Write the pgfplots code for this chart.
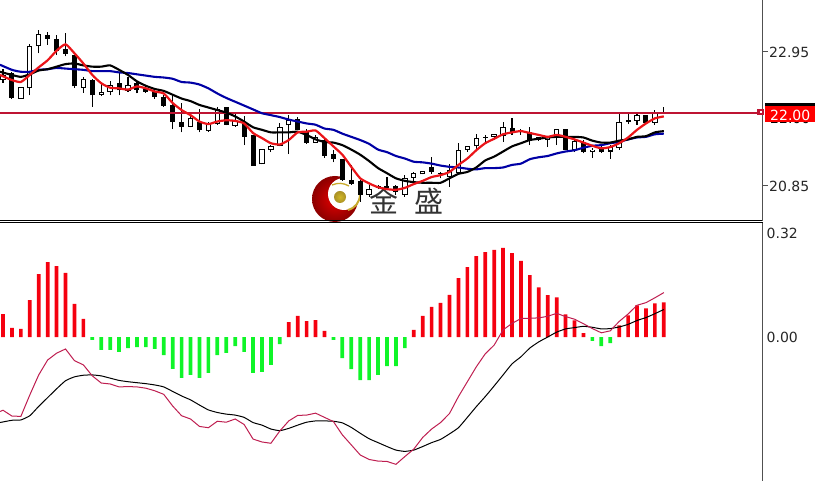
\documentclass[border=0pt]{standalone}
\usepackage{fontspec}
\setmainfont{DejaVu Sans}
\newfontfamily\cjk{Noto Sans CJK SC}
\usepackage{pgfplots}
\usepackage{pgfplotstable}
\pgfplotsset{compat=1.18}

\definecolor{hline}{RGB}{190,20,50}
\definecolor{ma5}{RGB}{235,20,25}
\definecolor{ma20}{RGB}{0,0,165}
\definecolor{dif}{RGB}{190,30,80}
\definecolor{barred}{RGB}{245,0,15}
\definecolor{bargreen}{RGB}{15,245,40}
\definecolor{axgray}{RGB}{80,80,80}
\definecolor{gold}{RGB}{200,170,45}

% candles: index open high low close
\pgfplotstableread{
i o h l c
1 22.62 22.64 22.21 22.23
5 23.21 23.26 23.06 23.16
6 23.15 23.22 22.90 22.97
7 22.99 23.24 22.88 22.92
8 22.91 22.91 22.39 22.41
10 22.51 22.52 22.09 22.27
13 22.46 22.62 22.27 22.35
15 22.46 22.49 22.30 22.36
16 22.38 22.43 22.31 22.33
17 22.33 22.38 22.22 22.25
18 22.24 22.28 22.09 22.11
19 22.12 22.28 21.74 21.86
20 21.85 22.15 21.69 21.78
22 21.86 22.05 21.69 21.72
25 22.08 22.09 21.80 21.81
27 21.83 21.94 21.49 21.62
28 21.65 21.65 21.17 21.17
33 21.90 21.93 21.72 21.73
34 21.70 21.75 21.51 21.52
36 21.57 21.58 21.29 21.32
37 21.35 21.42 21.22 21.28
38 21.27 21.28 20.93 20.94
39 20.94 21.18 20.87 20.88
40 20.93 20.95 20.60 20.71
42 20.85 20.87 20.80 20.82
43 20.85 20.99 20.79 20.82
44 20.85 20.87 20.71 20.75
48 21.14 21.30 21.04 21.07
49 21.06 21.07 20.97 21.05
54 21.62 21.65 21.53 21.61
57 21.76 21.91 21.65 21.70
58 21.72 21.74 21.65 21.69
59 21.69 21.77 21.49 21.56
60 21.61 21.62 21.56 21.57
63 21.75 21.75 21.41 21.41
65 21.54 21.57 21.36 21.38
67 21.43 21.47 21.37 21.38
70 21.88 22.00 21.82 21.85
72 21.96 21.96 21.82 21.83
74 21.99 22.09 21.98 21.98
}\blackc

\pgfplotstableread{
i o h l c
0 22.51 22.69 22.47 22.59
2 22.22 22.40 22.22 22.40
3 22.38 23.08 22.27 23.04
4 23.04 23.30 22.93 23.23
9 22.39 22.56 22.31 22.52
11 22.28 22.46 22.26 22.33
12 22.33 22.49 22.27 22.43
14 22.34 22.56 22.33 22.44
21 21.78 21.95 21.77 21.91
23 21.71 21.86 21.70 21.82
24 21.82 22.09 21.81 22.05
26 21.79 21.99 21.78 21.87
29 21.19 21.43 21.19 21.43
30 21.41 21.49 21.38 21.48
31 21.48 21.84 21.47 21.78
32 21.80 21.96 21.35 21.89
35 21.53 21.65 21.52 21.61
41 20.71 20.87 20.68 20.80
45 20.71 21.02 20.68 20.97
46 20.98 21.07 20.92 21.05
47 21.03 21.08 21.03 21.08
50 20.99 21.20 20.84 21.10
51 21.06 21.52 21.06 21.42
52 21.42 21.48 21.39 21.47
53 21.47 21.67 21.41 21.60
55 21.62 21.67 21.57 21.66
56 21.64 21.86 21.54 21.78
61 21.57 21.63 21.46 21.61
62 21.60 21.75 21.49 21.74
64 21.41 21.57 21.38 21.56
66 21.39 21.44 21.29 21.42
68 21.39 21.49 21.28 21.46
69 21.44 21.98 21.42 21.86
71 21.87 21.98 21.81 21.96
73 21.84 22.04 21.81 22.00
}\whitec

\pgfplotsset{
  wick/.style={draw=none,mark=none,forget plot,
    error bars/.cd,y dir=plus,y explicit,error mark=none,
    error bar style={black,line width=1.1pt,solid}},
  body/.style={draw=none,mark=none,forget plot,
    error bars/.cd,y dir=plus,y explicit,error mark=none,
    error bar style={#1,solid}},
  panel/.style={
    scale only axis,width=762.5pt,
    xmin=-0.336,xmax=85.05,
    xtick=\empty,
    axis y line*=right,
    axis line style={-},
    ytick pos=right,
    tick align=outside,
    /pgf/number format/.cd,fixed,fixed zerofill,precision=2,assume math mode=true,
    /pgfplots/.cd,
    ticklabel style={font=\fontsize{14}{16}\selectfont,text=black!85},
    y axis line style={axgray,line width=1.2pt},
  },
}

\begin{document}
\begin{tikzpicture}[x=1pt,y=1pt]
\path[use as bounding box] (0,0) rectangle (815,481);

% watermark logo, sits under the candles
\shade[inner color=red!90!black,outer color=red!55!black] (335,282) circle (23);
\fill[white] (344,287) circle (16);
\shade[inner color=gold!85!yellow,outer color=gold!85!black] (340,284) circle (6);
\draw[gold,line width=2pt] (348,271) to[bend right=35] (360,286);
\draw[gold,line width=1.3pt] (332,296) to[bend left=25] (349,295);
\node[text=black!80,inner sep=0pt] at (384,280) {\fontsize{29}{30}\selectfont\cjk 金};
\node[text=black!80,inner sep=0pt] at (429,280) {\fontsize{29}{30}\selectfont\cjk 盛};

\begin{axis}[panel,at={(0pt,260pt)},anchor=south west,height=221pt,
    ymin=20.301,ymax=23.765,
    axis x line*=bottom,
    x axis line style={black,line width=1pt},
    ytick={20.85,22.95},
    major tick length=5pt,
    y tick style={axgray,line width=1pt},
    yticklabel style={inner sep=0pt,xshift=1.5pt},
    clip=true]
\addplot[wick] table[x=i,y=l,y error plus expr=\thisrow{h}-\thisrow{l}] {\blackc};
\addplot[wick] table[x=i,y=l,y error plus expr=\thisrow{h}-\thisrow{l}] {\whitec};
\addplot[body={black,line width=5pt}] table[x=i,y=c,y error plus expr=\thisrow{o}-\thisrow{c}] {\blackc};
\addplot[body={black,line width=5.4pt}] table[x=i,y=o,y error plus expr=\thisrow{c}-\thisrow{o}] {\whitec};
\addplot[body={white,line width=3.4pt}] table[x=i,y expr=\thisrow{o}+0.016,y error plus expr=\thisrow{c}-\thisrow{o}-0.032] {\whitec};

% 22.00 level
\addplot[hline,line width=2pt,forget plot] coordinates {(-0.336,22.00) (84.4,22.00)};

% slow average
\addplot[ma20,line width=2.1pt,smooth,tension=0.35,forget plot] coordinates {
(-0.34,22.75)(1,22.67)(2,22.64)(3,22.64)(4,22.67)(5,22.68)(6,22.70)(7,22.69)(8,22.68)(9,22.67)
(10,22.65)(11,22.65)(12,22.65)(13,22.63)(14,22.62)(15,22.60)(16,22.58)(17,22.56)(18,22.55)(19,22.53)
(20,22.48)(21,22.47)(22,22.44)(23,22.38)(24,22.30)(25,22.23)(26,22.17)(27,22.11)(28,22.05)(29,21.99)
(30,21.96)(31,21.93)(32,21.89)(33,21.86)(34,21.83)(35,21.81)(36,21.75)(37,21.73)(38,21.67)(39,21.62)
(40,21.57)(41,21.51)(42,21.42)(43,21.38)(44,21.32)(45,21.28)(46,21.23)(47,21.22)(48,21.20)(49,21.17)
(50,21.15)(51,21.14)(52,21.12)(53,21.11)(54,21.13)(55,21.13)(56,21.14)(57,21.18)(58,21.20)(59,21.27)
(60,21.30)(61,21.32)(62,21.36)(63,21.39)(64,21.41)(65,21.45)(66,21.48)(67,21.49)(68,21.52)(69,21.54)
(70,21.58)(71,21.61)(72,21.62)(73,21.66)(74,21.67)};

% middle average
\addplot[black,line width=2.1pt,smooth,tension=0.35,forget plot] coordinates {
(-0.34,22.64)(1,22.59)(2,22.56)(3,22.60)(4,22.66)(5,22.68)(6,22.72)(7,22.76)(8,22.77)(9,22.74)
(10,22.72)(11,22.72)(12,22.74)(13,22.67)(14,22.59)(15,22.49)(16,22.42)(17,22.37)(18,22.34)(19,22.28)
(20,22.22)(21,22.18)(22,22.12)(23,22.08)(24,22.04)(25,22.00)(26,21.94)(27,21.86)(28,21.77)(29,21.73)
(30,21.69)(31,21.69)(32,21.69)(33,21.70)(34,21.65)(35,21.58)(36,21.54)(37,21.53)(38,21.49)(39,21.42)
(40,21.34)(41,21.24)(42,21.13)(43,21.05)(44,20.97)(45,20.93)(46,20.91)(47,20.90)(48,20.90)(49,20.90)
(50,20.97)(51,21.04)(52,21.07)(53,21.14)(54,21.25)(55,21.31)(56,21.39)(57,21.47)(58,21.52)(59,21.57)
(60,21.59)(61,21.61)(62,21.62)(63,21.62)(64,21.62)(65,21.61)(66,21.56)(67,21.53)(68,21.53)(69,21.56)
(70,21.58)(71,21.62)(72,21.63)(73,21.69)(74,21.71)};

% fast average
\addplot[ma5,line width=2.2pt,smooth,tension=0.35,forget plot] coordinates {
(-0.34,22.59)(1,22.51)(2,22.48)(3,22.59)(4,22.71)(5,22.82)(6,22.97)(7,23.07)(8,22.93)(9,22.77)
(10,22.59)(11,22.46)(12,22.39)(13,22.38)(14,22.36)(15,22.41)(16,22.38)(17,22.33)(18,22.30)(19,22.15)
(20,22.04)(21,21.96)(22,21.86)(23,21.82)(24,21.86)(25,21.88)(26,21.87)(27,21.83)(28,21.68)(29,21.60)
(30,21.52)(31,21.50)(32,21.57)(33,21.69)(34,21.70)(35,21.72)(36,21.60)(37,21.47)(38,21.34)(39,21.15)
(40,20.97)(41,20.89)(42,20.83)(43,20.80)(44,20.79)(45,20.82)(46,20.88)(47,20.93)(48,20.99)(49,21.02)
(50,21.07)(51,21.18)(52,21.28)(53,21.41)(54,21.52)(55,21.59)(56,21.66)(57,21.69)(58,21.71)(59,21.68)
(60,21.65)(61,21.62)(62,21.65)(63,21.62)(64,21.58)(65,21.53)(66,21.48)(67,21.44)(68,21.46)(69,21.52)
(70,21.61)(71,21.73)(72,21.83)(73,21.91)(74,21.94)};
\end{axis}

\begin{axis}[panel,at={(0pt,0pt)},anchor=south west,height=258pt,
    ymin=-0.4444,ymax=0.3519,
    axis x line*=top,
    x axis line style={black,line width=1pt},
    ytick={0,0.32},
    major tick length=0pt,
    yticklabel style={inner sep=0pt,xshift=4pt}]
\addplot[ybar,bar shift=0pt,bar width=3.7pt,fill=barred,draw=none,forget plot] coordinates {
(0,0.071)(1,0.028)(2,0.025)(3,0.114)(4,0.194)(5,0.231)(6,0.219)(7,0.198)(8,0.102)(9,0.056)
(32,0.046)(33,0.065)(34,0.049)(35,0.052)(36,0.019)
(46,0.022)(47,0.065)(48,0.093)(49,0.105)(50,0.130)(51,0.182)(52,0.216)(53,0.250)(54,0.262)(55,0.269)
(56,0.275)(57,0.259)(58,0.235)(59,0.191)(60,0.153)(61,0.129)(62,0.122)(63,0.070)(64,0.051)(65,0.012)
(69,0.036)(70,0.067)(71,0.098)(72,0.088)(73,0.104)(74,0.107)};
\addplot[ybar,bar shift=0pt,bar width=3.7pt,fill=bargreen,draw=none,forget plot] coordinates {
(10,-0.009)(11,-0.040)(12,-0.040)(13,-0.046)(14,-0.034)(15,-0.031)(16,-0.031)(17,-0.037)(18,-0.056)(19,-0.098)
(20,-0.126)(21,-0.117)(22,-0.126)(23,-0.111)(24,-0.056)(25,-0.049)(26,-0.028)(27,-0.046)(28,-0.111)(29,-0.108)
(30,-0.086)(31,-0.022)
(37,-0.009)(38,-0.065)(39,-0.099)(40,-0.133)(41,-0.133)(42,-0.117)(43,-0.090)(44,-0.090)(45,-0.034)
(66,-0.012)(67,-0.028)(68,-0.019)};

% signal line
\addplot[black,line width=1pt,smooth,tension=0.3,forget plot] coordinates {
(-0.34,-0.264)(1,-0.257)(2,-0.256)(3,-0.243)(4,-0.214)(5,-0.187)(6,-0.160)(7,-0.135)(8,-0.123)(9,-0.118)
(10,-0.117)(11,-0.120)(12,-0.127)(13,-0.134)(14,-0.138)(15,-0.141)(16,-0.144)(17,-0.148)(18,-0.154)(19,-0.168)
(20,-0.182)(21,-0.194)(22,-0.210)(23,-0.225)(24,-0.233)(25,-0.238)(26,-0.241)(27,-0.248)(28,-0.264)(29,-0.272)
(30,-0.284)(31,-0.289)(32,-0.282)(33,-0.272)(34,-0.263)(35,-0.259)(36,-0.259)(37,-0.260)(38,-0.265)(39,-0.279)
(40,-0.297)(41,-0.314)(42,-0.326)(43,-0.338)(44,-0.349)(45,-0.353)(46,-0.349)(47,-0.338)(48,-0.326)(49,-0.316)
(50,-0.299)(51,-0.280)(52,-0.248)(53,-0.215)(54,-0.184)(55,-0.151)(56,-0.117)(57,-0.083)(58,-0.061)(59,-0.034)
(60,-0.015)(61,0.000)(62,0.015)(63,0.025)(64,0.029)(65,0.033)(66,0.030)(67,0.025)(68,0.026)(69,0.031)
(70,0.039)(71,0.051)(72,0.060)(73,0.072)(74,0.085)};

% macd line
\addplot[dif,line width=1pt,forget plot] coordinates {
(-0.34,-0.230)(0,-0.226)(1,-0.244)(2,-0.245)(3,-0.179)(4,-0.117)(5,-0.071)(6,-0.050)(7,-0.037)(8,-0.073)(9,-0.086)
(10,-0.120)(11,-0.142)(12,-0.145)(13,-0.154)(14,-0.153)(15,-0.154)(16,-0.158)(17,-0.166)(18,-0.177)(19,-0.213)
(20,-0.243)(21,-0.253)(22,-0.276)(23,-0.280)(24,-0.260)(25,-0.263)(26,-0.253)(27,-0.270)(28,-0.315)(29,-0.324)
(30,-0.328)(31,-0.290)(32,-0.259)(33,-0.242)(34,-0.241)(35,-0.235)(36,-0.248)(37,-0.261)(38,-0.302)(39,-0.333)
(40,-0.364)(41,-0.378)(42,-0.383)(43,-0.384)(44,-0.393)(45,-0.369)(46,-0.346)(47,-0.310)(48,-0.284)(49,-0.264)
(50,-0.236)(51,-0.184)(52,-0.138)(53,-0.092)(54,-0.052)(55,-0.025)(56,0.022)(57,0.042)(58,0.057)(59,0.058)
(60,0.059)(61,0.064)(62,0.073)(63,0.063)(64,0.055)(65,0.041)(66,0.026)(67,0.013)(68,0.019)(69,0.048)
(70,0.071)(71,0.098)(72,0.106)(73,0.121)(74,0.137)};
\end{axis}

% outer ticks of the price scale
\draw[axgray,line width=1pt] (763,429) -- (768,429);
\draw[axgray,line width=1pt] (763,295) -- (768,295);

% current price flag at the 22.00 level
\fill[hline] (757,366) rectangle (763.5,372);
\fill[white] (759.5,368) rectangle (761.5,370);
\node[anchor=west,inner sep=0pt,text=black,font=\fontsize{14}{16}\selectfont] at (770,362.5) {22.00};
\fill[black] (764.5,359) rectangle (815,378);
\fill[red] (764.5,359) rectangle (815,375);
\node[anchor=west,inner sep=0pt,text=white,font=\fontsize{14}{16}\selectfont] at (770,365.5) {22.00};
\end{tikzpicture}
\end{document}
